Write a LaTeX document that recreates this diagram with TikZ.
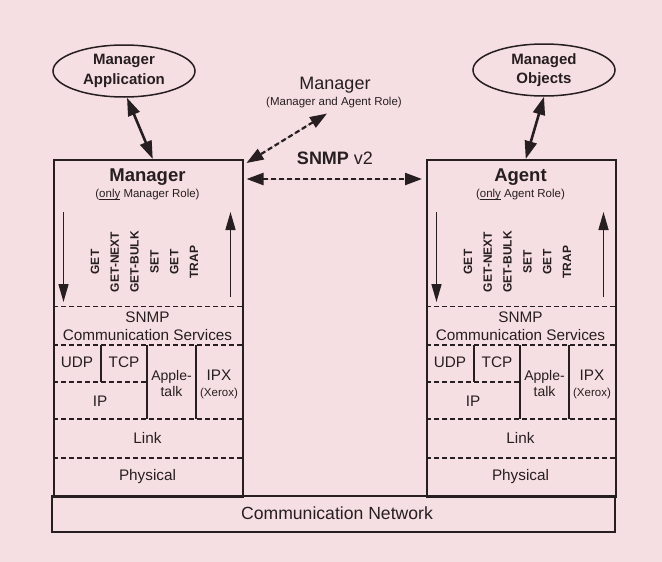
\documentclass[tikz,border=0pt]{standalone}
\usepackage{fontspec}
\setmainfont{Liberation Sans}
\usetikzlibrary{shapes.geometric,arrows.meta}
\definecolor{bg}{RGB}{246,223,226}
\definecolor{ink}{RGB}{38,30,32}
\newcommand\fTitle{\fontsize{18.5}{22}\selectfont\bfseries}
\newcommand\fEll{\fontsize{15}{19.5}\selectfont\bfseries}
\newcommand\fBigReg{\fontsize{18}{22}\selectfont}
\newcommand\fSmall{\fontsize{11.5}{14}\selectfont}
\newcommand\fLayer{\fontsize{15.3}{18}\selectfont}
\newcommand\fApple{\fontsize{14}{16}\selectfont}
\newcommand\fVert{\fontsize{12}{14}\selectfont\bfseries}
\newcommand\fComm{\fontsize{17.6}{20}\selectfont}
\newcommand\myUl[1]{{\setbox0\hbox{#1}\rlap{\rule[-2pt]{\wd0}{0.6pt}}#1}}
\begin{document}
\begin{tikzpicture}[x=1pt,y=-1pt,
  txt/.style={text=ink,inner sep=0pt},
  boxst/.style={draw=ink,line width=1.5pt,inner sep=0pt},
  layerdash/.style={draw=ink,line width=1.3pt,dash pattern=on 5pt off 3pt},
  layersolid/.style={draw=ink,line width=1.3pt},
  solidarrow/.style={draw=ink,fill=ink,line width=2.6pt,{Triangle[length=18pt,width=12pt]}-{Triangle[length=18pt,width=12pt]}},
  dasharrow/.style={draw=ink,fill=ink,line width=2.2pt,dash pattern=on 5pt off 3pt,{Triangle[length=17pt,width=12pt]}-{Triangle[length=17pt,width=12pt]}},
  thinarrow/.style={draw=ink,fill=ink,line width=1.5pt,-{Triangle[length=18pt,width=10pt]}},
  ellst/.style={ellipse,draw=ink,line width=1.5pt,minimum width=142pt,minimum height=52pt,inner sep=0pt,align=center,text=ink,font=\fEll}
]
\fill[bg] (0,0) rectangle (662,562);
\useasboundingbox (0,0) rectangle (662,562);

% communication network
\node[boxst,minimum width=563pt,minimum height=36pt] (comm) at (333.5,514) {};
\node[txt,font=\fComm] (commtxt) at (337,513.5) {Communication Network};

% the two stacks
\foreach \x/\n/\t/\s in {53/m/Manager/Manager,426/a/Agent/Agent}{
  \node[boxst,anchor=north west,minimum width=189pt,minimum height=337pt] (\n-box) at (\x,159) {};
  \node[txt,font=\fTitle] (\n-title) at (\x+94.5,177.5) {\t};
  \node[txt,font=\fSmall] (\n-role) at (\x+94.5,195) {(\myUl{only} \s\ Role)};
  \coordinate (\n-d1) at (\x+10.5,212);
  \coordinate (\n-d2) at (\x+10.5,302);
  \coordinate (\n-u1) at (\x+177.5,297);
  \coordinate (\n-u2) at (\x+177.5,212);
  \draw[thinarrow] (\n-d1) -- (\n-d2);
  \draw[thinarrow] (\n-u1) -- (\n-u2);
  \foreach \i/\lab in {0/GET,1/GET-NEXT,2/GET-BULK,3/SET,4/GET,5/TRAP}{
    \node[txt,rotate=90,font=\fVert] (\n-op\i) at (\x+42+19.8*\i,262) {\lab};
  }
  % layer lines
  \draw[layerdash] (\x,306.5) -- (\x+189,306.5);
  \draw[layerdash] (\x,345) -- (\x+189,345);
  \draw[layerdash] (\x,382) -- (\x+94,382);
  \draw[layerdash] (\x,419) -- (\x+189,419);
  \draw[layerdash] (\x,458) -- (\x+189,458);
  \draw[layersolid] (\x+48,345) -- (\x+48,382);
  \draw[layersolid] (\x+94,345) -- (\x+94,419);
  \draw[layersolid] (\x+143,345) -- (\x+143,419);
  % layer texts
  \node[txt,font=\fLayer] (\n-snmp) at (\x+94.5,317) {SNMP};
  \node[txt,font=\fLayer] (\n-cs) at (\x+94.5,335) {Communication Services};
  \node[txt,font=\fLayer] (\n-udp) at (\x+24,362) {UDP};
  \node[txt,font=\fLayer] (\n-tcp) at (\x+71,362) {TCP};
  \node[txt,font=\fApple,align=center] (\n-apple) at (\x+118.5,383) {Apple-\\talk};
  \node[txt,font=\fLayer] (\n-ipx) at (\x+166,375) {IPX};
  \node[txt,font=\fSmall] (\n-xerox) at (\x+166,394) {(Xerox)};
  \node[txt,font=\fLayer] (\n-ip) at (\x+47,401) {IP};
  \node[txt,font=\fLayer] (\n-link) at (\x+94.5,438) {Link};
  \node[txt,font=\fLayer] (\n-phys) at (\x+94.5,477) {Physical};
}

% ellipses
\node[ellst] (mapp) at (124,71) {Manager\\Application};
\node[ellst] (mobj) at (544,70) {Managed\\Objects};

% top manager label and SNMP v2
\node[txt,font=\fBigReg] (topmgr) at (335,85) {Manager};
\node[txt,font=\fSmall] (toprole) at (334,103) {(Manager and Agent Role)};
\node[txt,font=\fBigReg] (snmpv2) at (335,158) {\textbf{SNMP} v2};

% connectors
\draw[solidarrow] ([xshift=3pt]mapp.south) -- ([xshift=4.5pt]m-box.north);
\draw[solidarrow] (mobj.south) -- ([xshift=4.5pt]a-box.north);
\draw[dasharrow] ([shift={(-7,5)}]toprole.south) -- ([shift={(3,4)}]m-box.north east);
\draw[dasharrow] ([shift={(3,20)}]m-box.north east) -- ([shift={(-4,20)}]a-box.north west);
\end{tikzpicture}
\end{document}
